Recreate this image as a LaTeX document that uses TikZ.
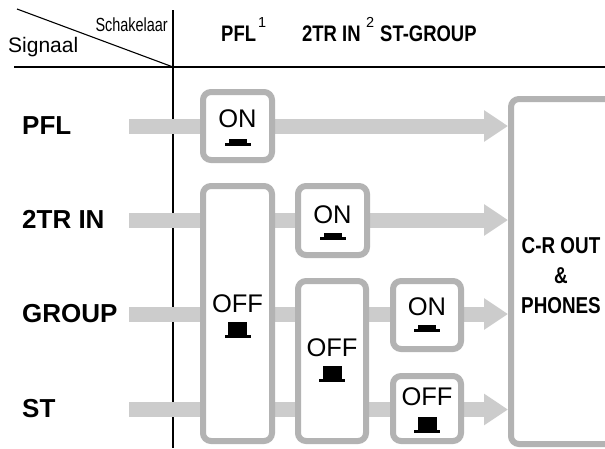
\documentclass[tikz,border=0pt]{standalone}
\usepackage{fontspec}
\setmainfont{Liberation Sans}
\newfontfamily\narrowfont[FakeStretch=0.82]{Liberation Sans}
\newfontfamily\narrowerfont[FakeStretch=0.76]{Liberation Sans}
\usetikzlibrary{arrows.meta}
\definecolor{barcol}{HTML}{CCCCCC}
\definecolor{boxcol}{HTML}{B3B3B3}
\begin{document}
\begin{tikzpicture}[x=1pt,y=-1pt,
  swbox/.style={draw=boxcol, line width=6pt, rounded corners=8pt, fill=white, inner sep=0pt},
  sig/.style={draw=barcol, line width=15pt, -{Triangle[length=24pt,width=30pt]}},
  rule/.style={draw=black, line width=1.1pt},
  rowlab/.style={font=\fontsize{26}{30}\selectfont\bfseries, anchor=base west, inner sep=0pt},
  swtext/.style={font=\fontsize{25.5}{30}\selectfont, anchor=base, inner sep=0pt},
  head/.style={font=\narrowfont\fontsize{22.5}{26}\selectfont\bfseries, anchor=base west, inner sep=0pt},
  supnum/.style={font=\fontsize{14.5}{16}\selectfont, anchor=base west, inner sep=0pt},
  crtext/.style={font=\narrowfont\fontsize{23}{30}\selectfont\bfseries, align=center, inner sep=0pt},
  onbtn/.pic={\fill[black] (-9,0) rectangle (9,4); \fill[black] (-13,4) rectangle (13,6.5);},
  offbtn/.pic={\fill[black] (-9.5,0) rectangle (9.5,13); \fill[black] (-13,13) rectangle (13,16);},
]
\clip (0,0) rectangle (605,448);
\fill[white] (0,0) rectangle (605,448);

% header rules
\coordinate (dstart) at (17,9);
\coordinate (corner) at (173,67);
\coordinate (hleft) at (14,67);
\coordinate (hright) at (605,67);
\coordinate (vtop) at (173,10);
\coordinate (vbot) at (173,448);
\draw[rule] (dstart) -- (corner);
\draw[rule] (hleft) -- (hright);
\draw[rule] (vtop) -- (vbot);

\node[anchor=base east, inner sep=0pt, font=\narrowerfont\fontsize{19}{22}\selectfont] (schak) at (168,31) {Schakelaar};
\node[anchor=base west, inner sep=0pt, font=\fontsize{21}{24}\selectfont] (sign) at (8,52) {Signaal};

\node[head] (hpfl) at (221,41) {PFL};
\node[supnum] (hsup1) at (258,27) {1};
\node[head] (htr) at (302,41) {2TR IN};
\node[supnum] (hsup2) at (366,27) {2};
\node[head] (hst) at (380,41) {ST-GROUP};

% row labels
\node[rowlab] (lpfl) at (22,134) {PFL};
\node[rowlab] (ltr) at (22,228) {2TR IN};
\node[rowlab] (lgrp) at (22,322) {GROUP};
\node[rowlab] (lst) at (22,417) {ST};

% output box
\node[swbox, minimum width=114pt, minimum height=345pt] (cr) at (568,271.5) {};
\node[crtext] (crlab) at (561,276) {C-R OUT\\\&\\PHONES};

% signal bars
\coordinate (s1) at (129,126);
\coordinate (s2) at (129,220);
\coordinate (s3) at (129,314);
\coordinate (s4) at (129,409.5);
\draw[sig] (s1) -- (s1 -| cr.west);
\draw[sig] (s2) -- (s2 -| cr.west);
\draw[sig] (s3) -- (s3 -| cr.west);
\draw[sig] (s4) -- (s4 -| cr.west);

% switch boxes
\node[swbox, minimum width=69pt, minimum height=68pt] (pflon) at (237.5,126) {};
\node[swbox, minimum width=69pt, minimum height=255pt] (pfloff) at (237.5,313.5) {};
\node[swbox, minimum width=69pt, minimum height=69pt] (tron) at (332.5,220.5) {};
\node[swbox, minimum width=68pt, minimum height=160pt] (midoff) at (332,361) {};
\node[swbox, minimum width=68pt, minimum height=68pt] (grpon) at (427,315) {};
\node[swbox, minimum width=68pt, minimum height=65pt] (stoff) at (427,408.5) {};

% switch texts and buttons
\node[swtext] (tpflon) at (237.5,127) {ON};
\pic at (237.5,139) {onbtn};
\node[swtext] (ttron) at (332.5,223) {ON};
\pic at (332.5,233) {onbtn};
\node[swtext] (tgrpon) at (427,315) {ON};
\pic at (427,325) {onbtn};
\node[swtext] (tpfloff) at (237.5,312) {OFF};
\pic at (237.5,322) {offbtn};
\node[swtext] (tmidoff) at (332,356) {OFF};
\pic at (332,366) {offbtn};
\node[swtext] (tstoff) at (427,405) {OFF};
\pic at (427,417) {offbtn};
\end{tikzpicture}
\end{document}
